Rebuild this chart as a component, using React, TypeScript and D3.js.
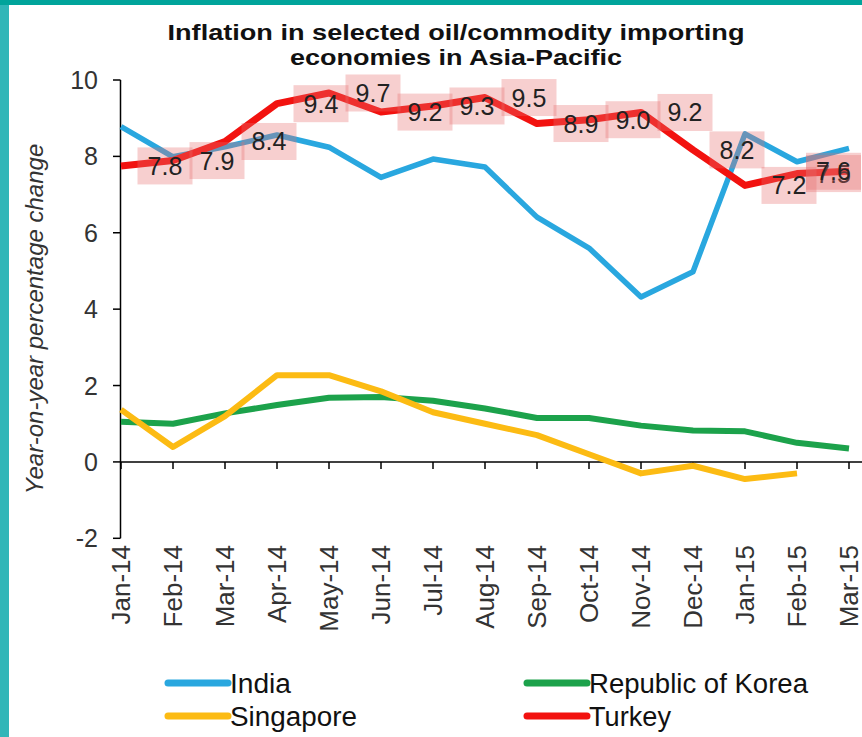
import React from 'react';
import * as d3 from 'd3';

const months = ['Jan-14','Feb-14','Mar-14','Apr-14','May-14','Jun-14','Jul-14','Aug-14','Sep-14','Oct-14','Nov-14','Dec-14','Jan-15','Feb-15','Mar-15'];
const india = [8.78, 7.99, 8.25, 8.56, 8.24, 7.45, 7.93, 7.72, 6.41, 5.6, 4.32, 4.98, 8.59, 7.86, 8.21];
const korea = [1.05, 1.0, 1.27, 1.49, 1.68, 1.7, 1.6, 1.4, 1.15, 1.15, 0.95, 0.82, 0.8, 0.5, 0.35];
const singapore: (number | null)[] = [1.37, 0.39, 1.2, 2.27, 2.27, 1.85, 1.3, 1.0, 0.7, 0.2, -0.3, -0.1, -0.45, -0.3, null];
const turkey = [7.75, 7.89, 8.39, 9.38, 9.66, 9.16, 9.32, 9.54, 8.86, 8.96, 9.15, 8.17, 7.24, 7.55, 7.61];
const turkeyLabels = ['7.8','7.9','8.4','9.4','9.7','9.2','9.3','9.5','8.9','9.0','9.2','8.2','7.2','7.5','7.6'];
const yTicks = [-2, 0, 2, 4, 6, 8, 10];
const titleLines = ['Inflation in selected oil/commodity importing', 'economies in Asia-Pacific'];
const yTitle = 'Year-on-year percentage change';

const W = 862, H = 737;
const FONT = 'Arial, "Liberation Sans", sans-serif';

export default function App() {
  const x = d3.scalePoint<string>().domain(months).range([121, 849]);
  const y = d3.scaleLinear().domain([-2, 10]).range([538.3, 80]);
  const line = d3.line<number | null>()
    .defined((d) => d !== null)
    .x((_, i) => x(months[i]) as number)
    .y((d) => y(d as number));

  const series = [
    { name: 'India', data: india, color: '#29a7df', width: 5.5 },
    { name: 'Republic of Korea', data: korea, color: '#1ca24b', width: 6 },
    { name: 'Singapore', data: singapore, color: '#fcbb13', width: 6 },
    { name: 'Turkey', data: turkey, color: '#f2120f', width: 7 },
  ];

  const legend = [
    { name: 'India', color: '#29a7df', x1: 168, x2: 228, y: 683, tx: 230, tl: 61 },
    { name: 'Republic of Korea', color: '#1ca24b', x1: 527, x2: 587, y: 683, tx: 589, tl: 219 },
    { name: 'Singapore', color: '#fcbb13', x1: 168, x2: 228, y: 716, tx: 230, tl: 127 },
    { name: 'Turkey', color: '#f2120f', x1: 527, x2: 587, y: 716, tx: 589, tl: 82 },
  ];

  const boxW = 55, boxH = 37;

  return (
    <svg width={W} height={H} style={{ position: 'absolute', left: 0, top: 0 }} fontFamily={FONT}>
      <rect x={0} y={0} width={W} height={H} fill="#31b6b8" />
      <rect x={0} y={0} width={W} height={5} fill="#00a49b" />
      <rect x={9} y={5} width={W - 9} height={H - 5} fill="#ffffff" />

      {/* title */}
      <text x={456} y={40} textAnchor="middle" fontSize={22} fontWeight="bold" fill="#111"
        textLength={577} lengthAdjust="spacingAndGlyphs">{titleLines[0]}</text>
      <text x={456} y={65} textAnchor="middle" fontSize={22} fontWeight="bold" fill="#111"
        textLength={332} lengthAdjust="spacingAndGlyphs">{titleLines[1]}</text>

      {/* y axis title */}
      <text transform="translate(43,319) rotate(-90)" textAnchor="middle" fontSize={24}
        fontStyle="italic" fill="#333">{yTitle}</text>

      {/* y axis */}
      <line x1={120.5} x2={120.5} y1={y(10)} y2={y(-2)} stroke="#000" strokeWidth={1.5} />
      {yTicks.map((t) => (
        <g key={t}>
          <line x1={113} x2={120.5} y1={y(t)} y2={y(t)} stroke="#000" strokeWidth={1.5} />
          <text x={98} y={y(t) + 9} textAnchor="end" fontSize={25} fill="#333">{t}</text>
        </g>
      ))}

      {/* x axis */}
      <line x1={120} x2={W} y1={y(0)} y2={y(0)} stroke="#000" strokeWidth={1.5} />
      {months.map((m) => (
        <g key={m}>
          <line x1={x(m)} x2={x(m)} y1={y(0)} y2={y(0) + 7} stroke="#000" strokeWidth={1.5} />
          <text transform={`translate(${(x(m) as number) + 9},545) rotate(-90)`} textAnchor="end"
            fontSize={26} fill="#333">{m}</text>
        </g>
      ))}

      {/* series */}
      {series.map((s) => (
        <path key={s.name} d={line(s.data) || ''} fill="none" stroke={s.color} strokeWidth={s.width}
          strokeLinejoin="round" />
      ))}

      {/* Turkey labels */}
      {turkey.map((v, i) => {
        const cx = Math.min((x(months[i]) as number) + 44, W - boxW / 2 - 1);
        const cy = y(v);
        return (
          <g key={i}>
            <rect x={cx - boxW / 2} y={cy - boxH / 2} width={boxW} height={boxH} fill="rgba(232,110,110,0.33)" />
            <text x={cx} y={cy + 9} textAnchor="middle" fontSize={25} fill="#222">{turkeyLabels[i]}</text>
          </g>
        );
      })}

      {/* legend */}
      {legend.map((l) => (
        <g key={l.name}>
          <line x1={l.x1} x2={l.x2} y1={l.y} y2={l.y} stroke={l.color} strokeWidth={7} strokeLinecap="round" />
          <text x={l.tx} y={l.y + 10} fontSize={27} fill="#111" textLength={l.tl}
            lengthAdjust="spacingAndGlyphs">{l.name}</text>
        </g>
      ))}
    </svg>
  );
}
